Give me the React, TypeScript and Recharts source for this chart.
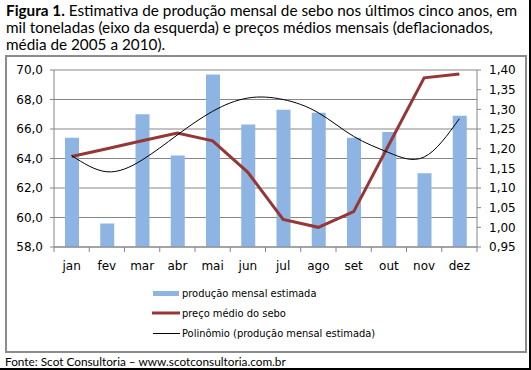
import { Bar, CartesianGrid, ComposedChart, Line, XAxis, YAxis } from 'recharts'

const MONTHS = ['jan', 'fev', 'mar', 'abr', 'mai', 'jun', 'jul', 'ago', 'set', 'out', 'nov', 'dez']
const PRODUCTION = [65.4, 59.6, 67.0, 64.2, 69.7, 66.3, 67.3, 67.1, 65.4, 65.8, 63.0, 66.9]
const PRICE = [1.18, 1.2, 1.22, 1.24, 1.22, 1.14, 1.02, 1.0, 1.04, 1.21, 1.38, 1.39]
const TREND = [64.2, 63.1, 63.9, 65.6, 67.2, 68.1, 68.0, 67.1, 65.5, 64.4, 64.1, 66.7]
const LEFT_TICKS = [58, 60, 62, 64, 66, 68, 70]
const RIGHT_TICKS = [0.95, 1.0, 1.05, 1.1, 1.15, 1.2, 1.25, 1.3, 1.35, 1.4]

const data = MONTHS.map((m, i) => ({
    month: m,
    producao: PRODUCTION[i],
    preco: PRICE[i],
    trend: TREND[i],
}))

const BAR_COLOR = '#8DB4E2'
const PRICE_COLOR = '#953735'
const AXIS_COLOR = '#868686'
const TICK_FONT = '"DejaVu Sans", sans-serif'
const TEXT_FONT = 'Lato, "Noto Sans", sans-serif'

// plot area in chart coordinates
const PLOT_TOP = 15
const PLOT_BOTTOM = 192
const PLOT_LEFT = 54
const PLOT_RIGHT = 477
const BAND = (PLOT_RIGHT - PLOT_LEFT) / MONTHS.length

const fmt = (digits: number) => (v: number) => v.toFixed(digits).replace('.', ',')

function MonthTick(props: any) {
    const { x, payload, index } = props
    const left = x - BAND / 2
    return (
        <g>
            <line x1={left} x2={left} y1={PLOT_BOTTOM} y2={PLOT_BOTTOM + 5} stroke={AXIS_COLOR} />
            {index === MONTHS.length - 1 && (
                <line x1={left + BAND} x2={left + BAND} y1={PLOT_BOTTOM} y2={PLOT_BOTTOM + 5} stroke={AXIS_COLOR} />
            )}
            <text x={x} y={PLOT_BOTTOM + 23} textAnchor="middle" fill="#000" fontSize={12} fontFamily={TICK_FONT}>
                {payload.value}
            </text>
        </g>
    )
}

const legendItems = [
    { label: 'produção mensal estimada', kind: 'bar' },
    { label: 'preço médio do sebo', kind: 'price' },
    { label: 'Polinômio (produção mensal estimada)', kind: 'trend' },
]

export default function App() {
    return (
        <div
            style={{
                position: 'absolute',
                left: 0,
                top: 0,
                width: 531,
                height: 370,
                background: '#fff',
                overflow: 'hidden',
                fontFamily: TEXT_FONT,
            }}
        >
            <div
                style={{
                    position: 'absolute',
                    left: 6,
                    top: 2,
                    width: 525,
                    fontSize: 15.3,
                    lineHeight: '16.8px',
                    color: '#000',
                    whiteSpace: 'nowrap',
                }}
            >
                <span style={{ fontWeight: 700 }}>Figura 1.</span>
                {' Estimativa de produção mensal de sebo nos últimos cinco anos, em'}
                <br />
                mil toneladas (eixo da esquerda) e preços médios mensais (deflacionados,
                <br />
                média de 2005 a 2010).
            </div>

            <div
                style={{
                    position: 'absolute',
                    left: 5,
                    top: 55,
                    width: 518,
                    height: 294,
                    border: '2px solid #8c8c8c',
                }}
            />

            <div style={{ position: 'absolute', left: 0, top: 55 }}>
                <ComposedChart
                    width={531}
                    height={300}
                    data={data}
                    margin={{ top: PLOT_TOP, right: 10, left: 0, bottom: 78 }}
                >
                    <CartesianGrid yAxisId="left" vertical={false} stroke={AXIS_COLOR} />
                    <XAxis
                        dataKey="month"
                        height={30}
                        stroke={AXIS_COLOR}
                        tickLine={false}
                        tick={<MonthTick />}
                        interval={0}
                    />
                    <YAxis
                        yAxisId="left"
                        width={54}
                        domain={[58, 70]}
                        ticks={LEFT_TICKS}
                        interval={0}
                        tickFormatter={fmt(1)}
                        stroke={AXIS_COLOR}
                        tickSize={4}
                        tickMargin={7}
                        tick={{ fill: '#000', fontSize: 12, fontFamily: TICK_FONT }}
                        allowDataOverflow
                    />
                    <YAxis
                        yAxisId="right"
                        orientation="right"
                        width={44}
                        domain={[0.95, 1.4]}
                        ticks={RIGHT_TICKS}
                        interval={0}
                        tickFormatter={fmt(2)}
                        stroke={AXIS_COLOR}
                        tickSize={4}
                        tickMargin={8}
                        tick={{ fill: '#000', fontSize: 12, fontFamily: TICK_FONT }}
                        allowDataOverflow
                    />
                    <Bar yAxisId="left" dataKey="producao" fill={BAR_COLOR} barSize={14} isAnimationActive={false} />
                    <Line
                        yAxisId="right"
                        dataKey="preco"
                        type="linear"
                        stroke={PRICE_COLOR}
                        strokeWidth={3}
                        dot={false}
                        isAnimationActive={false}
                    />
                    <Line
                        yAxisId="left"
                        dataKey="trend"
                        type="natural"
                        stroke="#000"
                        strokeWidth={1}
                        dot={false}
                        isAnimationActive={false}
                    />
                </ComposedChart>
            </div>

            <div style={{ position: 'absolute', left: 151, top: 283, fontSize: 12, fontFamily: TICK_FONT }}>
                {legendItems.map((item) => (
                    <div key={item.kind} style={{ display: 'flex', alignItems: 'center', height: 20 }}>
                        <svg width={31} height={20}>
                            {item.kind === 'bar' && <rect x={2} y={8} width={26} height={5} fill={BAR_COLOR} />}
                            {item.kind === 'price' && (
                                <line x1={1} x2={29} y1={10} y2={10} stroke={PRICE_COLOR} strokeWidth={3} />
                            )}
                            {item.kind === 'trend' && <line x1={2} x2={29} y1={10.5} y2={10.5} stroke="#000" />}
                        </svg>
                        <span style={{ fontSize: 11, fontStretch: 'condensed', whiteSpace: 'nowrap' }}>
                            {item.label}
                        </span>
                    </div>
                ))}
            </div>

            <div style={{ position: 'absolute', left: 5, top: 354, fontSize: 11.8, whiteSpace: 'nowrap' }}>
                Fonte: Scot Consultoria – www.scotconsultoria.com.br
            </div>

            <div style={{ position: 'absolute', right: 0, top: 0, width: 2, height: 370, background: '#000' }} />
            <div style={{ position: 'absolute', left: 0, bottom: 0, width: 531, height: 2, background: '#000' }} />
        </div>
    )
}
